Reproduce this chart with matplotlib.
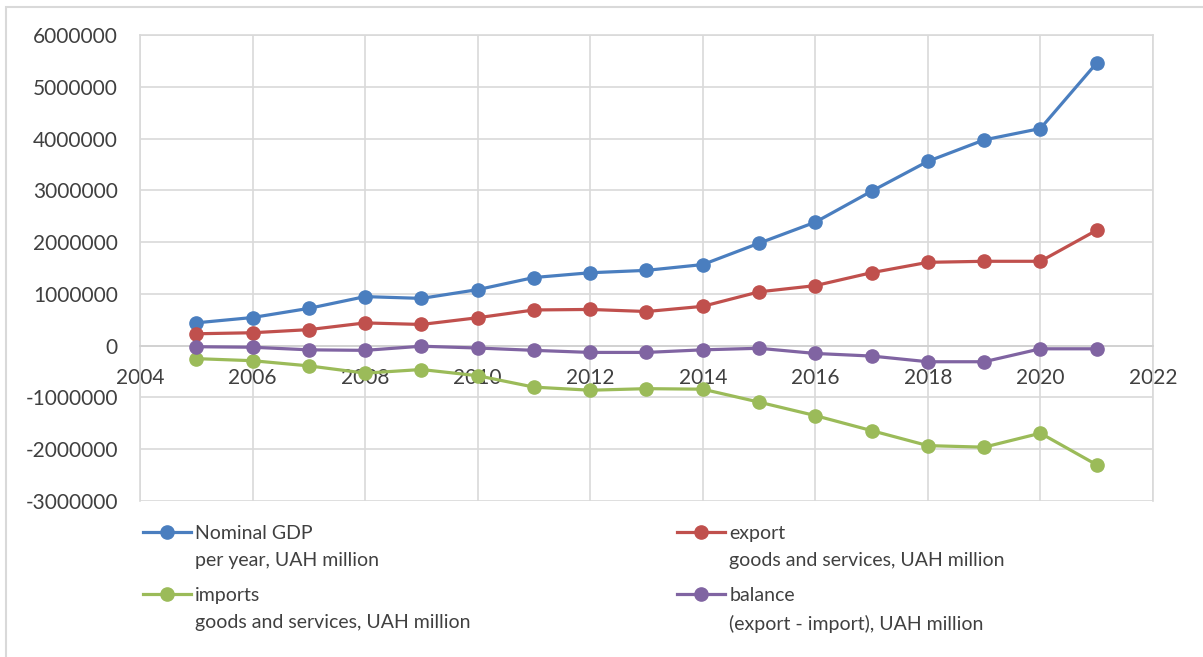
import matplotlib
matplotlib.use("Agg")
import matplotlib.pyplot as plt
from matplotlib.patches import Rectangle

plt.rcParams['font.family'] = ['Lato', 'DejaVu Sans']

years = list(range(2005, 2022))
gdp = [441452, 544153, 720731, 948056, 913345, 1082569, 1316600, 1408889, 1454931,
       1566728, 1979458, 2385367, 2983882, 3560596, 3974564, 4194102, 5459574]
export = [230000, 250000, 310000, 440000, 410000, 540000, 690000, 700000, 660000,
          760000, 1040000, 1160000, 1410000, 1610000, 1630000, 1630000, 2230000]
imports = [-250000, -290000, -390000, -530000, -460000, -580000, -800000, -860000, -830000,
           -840000, -1090000, -1350000, -1640000, -1930000, -1960000, -1690000, -2300000]
balance = [-20000, -30000, -80000, -90000, -10000, -45000, -90000, -130000, -130000,
           -80000, -50000, -150000, -200000, -310000, -310000, -60000, -60000]

labels = ["Nominal GDP\nper year, UAH million",
          "export\ngoods and services, UAH million",
          "imports\ngoods and services, UAH million",
          "balance\n(export - import), UAH million"]
colors = ['#4a7ebf', '#c0504d', '#9bbb59', '#8064a2']

fig = plt.figure(figsize=(12.03, 6.57), dpi=100)
ax = fig.add_axes([0.1164, 0.2374, 0.842, 0.7093])

lines = []
for vals, c in zip([gdp, export, imports, balance], colors):
    ln, = ax.plot(years, vals, color=c, lw=2.3, marker='o', markersize=9.5, zorder=3)
    lines.append(ln)

ax.set_xlim(2004, 2022)
ax.set_ylim(-3000000, 6000000)
ax.set_xticks(range(2004, 2023, 2))
ax.set_yticks(range(-3000000, 6000001, 1000000))
ax.yaxis.set_major_formatter(matplotlib.ticker.FuncFormatter(lambda v, p: f"{int(v)}"))
ax.grid(True, color='#d9d9d9', lw=1.2, zorder=0)
for s in ['top', 'left', 'right']:
    ax.spines[s].set_color('#d9d9d9')
    ax.spines[s].set_linewidth(1.2)
ax.spines['bottom'].set_position(('data', 0))
ax.spines['bottom'].set_color('#d0d0d0')
ax.spines['bottom'].set_linewidth(1.2)
ax.tick_params(axis='both', length=0, labelsize=15, colors='#404040')
ax.tick_params(axis='x', pad=16)
ax.tick_params(axis='y', pad=16)

# column-first fill: col1 = gdp, imports; col2 = export, balance
order = [0, 2, 1, 3]
leg = fig.legend([lines[i] for i in order], [labels[i] for i in order], ncol=2,
                 loc='upper left', bbox_to_anchor=(0.104, 0.228),
                 frameon=False, fontsize=14, handlelength=2.5, handletextpad=0.2,
                 columnspacing=10.6, labelspacing=0.95, labelcolor='#404040')
for t in leg.get_texts():
    t.set_linespacing(1.7)
for col in leg._legend_handle_box.get_children():
    for row in col.get_children():
        row.align = 'top'

fig.add_artist(Rectangle((0.005, -0.01), 1.1, 1.0, transform=fig.transFigure,
                         fill=False, edgecolor='#d9d9d9', lw=1.5))

fig.savefig('out.png', dpi=100)
